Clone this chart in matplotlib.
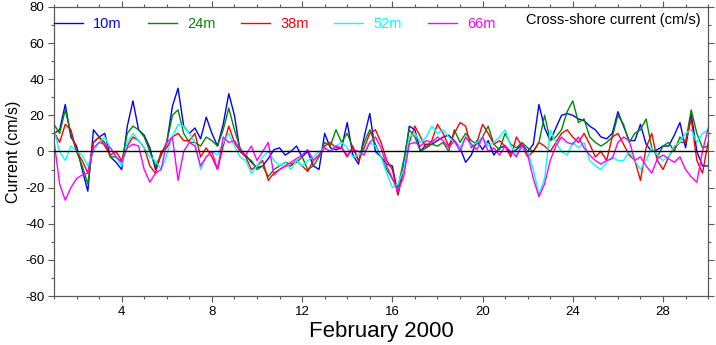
import matplotlib
matplotlib.use("Agg")
import matplotlib.pyplot as plt
from matplotlib.ticker import MultipleLocator
import numpy as np

plt.rcParams['font.family'] = ['Liberation Sans', 'DejaVu Sans']
plt.rcParams['axes.unicode_minus'] = False

# time axis: days of February 2000, every 6 hours
days = np.arange(1, 30.01, 0.25)

labels = ['10m', '24m', '38m', '52m', '66m']
colors = ['#0000ff', '#008a00', '#ff0000', '#00ffff', '#ff00ff']

cur_10m = [10, 12, 26, 8,   3, -10, -22, 12,   8, 10, -3, -6,   -10, 14, 28, 12,
           9, 2, -10, -2,   5, 25, 35, 14,   10, 13, 7, 19,   10, 3, 15, 32,
           20, 0, -2, -6,   -9, -8, -4, 1,   2, -2, 0, 3,   -3, 0, -8, -10,
           10, 2, 1, 2,   16, -2, -7, 8,   21, 0, -3, -7,   -8, -24, -8, 14,
           12, 0, 4, 4,   6, 8, 9, 6,   2, -6, -2, 6,   1, 6, -2, 2,
           3, -1, 1, 4,   0, 4, 26, 13,   6, 13, 20, 21,   20, 18, 17, 14,
           12, 8, 7, 10,   22, 14, 6, 6,   15, 4, 0, 1,   3, 3, 9, 16,
           2, 21, 0, -8,   -8]
cur_24m = [15, 10, 23, 10,   0, -8, -18, 5,   8, 5, -3, -3,   -6, 10, 14, 12,
           8, 0, -8, -2,   5, 20, 23, 10,   5, 5, 3, 8,   6, 3, 12, 24,
           12, 2, -3, -5,   -10, -8, -14, -10,   -8, -6, -7, -6,   -3, -10, -8, -3,
           5, 3, 12, 5,   10, 2, -5, 5,   12, 4, -3, -10,   -15, -20, -5, 12,
           8, 0, 2, 4,   3, 5, 0, 12,   5, 10, 6, 4,   8, 14, 4, 1,
           10, 4, 2, 5,   2, 0, 5, 20,   6, 8, 12, 22,   28, 16, 18, 8,
           5, 3, 5, 8,   20, 15, 5, 10,   12, 18, 2, -3,   3, 5, 0, 8,
           5, 23, 10, 2,   3]
cur_38m = [11, 5, 15, 12,   0, -5, -12, 5,   8, 3, -2, 0,   -5, 3, 8, 6,
           2, -8, -12, 0,   2, 8, 10, 6,   6, 10, -3, 2,   -3, -10, 3, 14,
           5, 0, -3, -10,   -8, -5, -16, -12,   -10, -8, -8, -5,   -8, -11, -5, -2,
           3, 5, 2, 2,   -3, 3, -5, 2,   10, 12, 5, -5,   -10, -24, -10, 5,
           14, 8, 2, 6,   15, 10, 3, 10,   16, 14, 2, 5,   15, 10, 4, 6,
           3, -3, 8, 3,   -3, 0, 5, 3,   0, 5, 10, 12,   8, 5, 10, 4,
           -3, 0, -5, 8,   10, 4, -2, -5,   -16, 2, 10, -5,   -10, -3, 2, 5,
           5, 18, -5, -12,   5]
cur_52m = [12, 0, -5, 3,   0, -2, -8, 0,   5, 8, 2, -3,   -8, 5, 10, 6,
           2, -3, -5, -10,   -2, 8, 15, 14,   10, 5, -10, -3,   0, -2, 5, 10,
           3, -3, -5, -12,   -8, -3, 0, -5,   -8, -6, -10, -5,   -8, -5, -3, 0,
           2, 0, 3, 5,   2, -3, -2, 0,   5, 3, -3, -12,   -20, -18, -10, 8,
           10, 5, 8, 14,   10, 12, 8, 5,   2, 8, 3, 5,   8, 3, 5, 8,
           12, 3, -2, 2,   0, -10, -24, -15,   12, 5, 0, -2,   5, 2, 5, -5,
           -8, -10, -6, -3,   -5, -5, 0, -5,   -10, -5, 2, -2,   -5, -3, 3, 5,
           10, 12, 5, 10,   12]
cur_66m = [6, -18, -27, -20,   -15, -13, -12, 2,   5, 4, 2, -3,   -6, 2, 4, 3,
           -10, -17, -12, -10,   5, 8, -16, 0,   5, 3, -8, -3,   0, -10, 8, 5,
           6, 1, -2, 3,   -5, 0, 5, -13,   -10, -8, -6, -4,   -2, 1, -5, -2,
           2, 0, 3, 2,   -2, 1, 0, -2,   5, 8, 2, -8,   -15, -22, -14, 4,
           5, 3, 6, 5,   8, 6, 2, 6,   0, 8, 4, 1,   8, 0, 2, -2,
           3, 0, -3, 4,   -2, -15, -25, -18,   -5, 3, 8, 5,   4, 8, 2, -2,
           -5, -7, -5, -4,   5, 8, 6, -5,   -3, -8, -12, -4,   -2, -4, -6, -3,
           -10, -14, -17, 0,   13]

series = [cur_10m, cur_24m, cur_38m, cur_52m, cur_66m]

fig = plt.figure(figsize=(7.16, 3.45), dpi=100)
ax = fig.add_axes([0.0754, 0.142, 0.9136, 0.838])

for vals, lab, c in zip(series, labels, colors):
    ax.plot(days, vals, color=c, lw=1.0, label=lab)
ax.axhline(0, color='black', lw=1.0, zorder=5)

ax.set_xlim(1, 30)
ax.set_ylim(-80, 80)
ax.xaxis.set_major_locator(MultipleLocator(4))
ax.xaxis.set_minor_locator(MultipleLocator(1))
ax.yaxis.set_major_locator(MultipleLocator(20))
ax.yaxis.set_minor_locator(MultipleLocator(10))
ax.tick_params(which='both', direction='out', top=True, right=True,
               color='0.35', labelsize=9.5, pad=3)
ax.tick_params(which='major', length=4, width=0.8)
ax.tick_params(which='minor', length=2.5, width=0.8)
for s in ax.spines.values():
    s.set_color('0.35')
    s.set_linewidth(0.9)

ax.set_xlabel('February 2000', fontsize=16, labelpad=2)
ax.set_ylabel('Current (cm/s)', fontsize=11.5, labelpad=3)

ax.text(0.988, 0.955, 'Cross-shore current (cm/s)', transform=ax.transAxes,
        ha='right', va='center', fontsize=10.5)

ax.legend(loc='center left', bbox_to_anchor=(0, 0.941), ncol=5, frameon=False,
          labelcolor='linecolor', fontsize=10.5, handlelength=2.0,
          handletextpad=0.7, columnspacing=1.75, borderpad=0, borderaxespad=0)

fig.savefig('out.png', dpi=100)
